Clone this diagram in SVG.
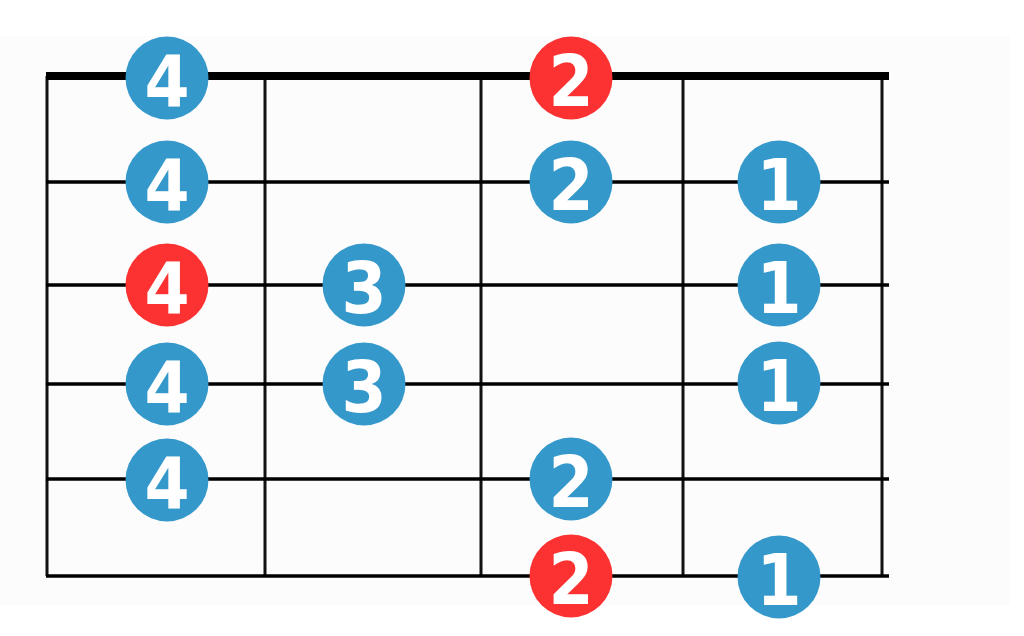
<svg xmlns="http://www.w3.org/2000/svg" width="1024" height="636" viewBox="0 0 1024 636">
<style>
.str{stroke:#000;stroke-width:3.5;fill:none}
.fret{stroke:#111;stroke-width:3;fill:none}
.b{fill:#3598cb}
.r{fill:#fc3232}
.n{font-family:"DejaVu Sans Condensed","DejaVu Sans",sans-serif;font-weight:bold;font-size:72px;fill:#fff;text-anchor:middle}
</style>
<rect width="1024" height="636" fill="#fff"/>
<path d="M0 36 H1010 V605 H0 Z" fill="#fcfcfd"/>
<g id="fretboard">
<line class="fret" x1="47" y1="76" x2="47" y2="576"/>
<line class="fret" x1="265" y1="76" x2="265" y2="576"/>
<line class="fret" x1="481" y1="76" x2="481" y2="576"/>
<line class="fret" x1="683" y1="76" x2="683" y2="576"/>
<line class="fret" x1="882" y1="76" x2="882" y2="576"/>
<line x1="46" y1="76" x2="889" y2="76" stroke="#000" stroke-width="8"/>
<line class="str" x1="46" y1="182" x2="889" y2="182"/>
<line class="str" x1="46" y1="285" x2="889" y2="285"/>
<line class="str" x1="46" y1="384" x2="889" y2="384"/>
<line class="str" x1="46" y1="479" x2="889" y2="479"/>
<line class="str" x1="46" y1="576" x2="889" y2="576"/>
</g>
<g id="n1"><circle class="b" cx="167" cy="78" r="41.5"/><text class="n" x="167" y="106">4</text></g>
<g id="n2"><circle class="b" cx="167" cy="182" r="41.5"/><text class="n" x="167" y="210">4</text></g>
<g id="n3"><circle class="r" cx="167" cy="285" r="41.5"/><text class="n" x="167" y="313">4</text></g>
<g id="n4"><circle class="b" cx="167" cy="384" r="41.5"/><text class="n" x="167" y="412">4</text></g>
<g id="n5"><circle class="b" cx="167" cy="480" r="41.5"/><text class="n" x="167" y="508">4</text></g>
<g id="n6"><circle class="b" cx="364" cy="285" r="41.5"/><text class="n" x="364" y="313">3</text></g>
<g id="n7"><circle class="b" cx="364" cy="384" r="41.5"/><text class="n" x="364" y="412">3</text></g>
<g id="n8"><circle class="r" cx="571" cy="78" r="41.5"/><text class="n" x="571" y="106">2</text></g>
<g id="n9"><circle class="b" cx="571" cy="182" r="41.5"/><text class="n" x="571" y="210">2</text></g>
<g id="n10"><circle class="b" cx="571" cy="479" r="41.5"/><text class="n" x="571" y="507">2</text></g>
<g id="n11"><circle class="r" cx="571" cy="576" r="41.5"/><text class="n" x="571" y="604">2</text></g>
<g id="n12"><circle class="b" cx="779" cy="182" r="41.5"/><text class="n" x="779" y="210">1</text></g>
<g id="n13"><circle class="b" cx="779" cy="285" r="41.5"/><text class="n" x="779" y="313">1</text></g>
<g id="n14"><circle class="b" cx="779" cy="383" r="41.5"/><text class="n" x="779" y="411">1</text></g>
<g id="n15"><circle class="b" cx="779" cy="577" r="41.5"/><text class="n" x="779" y="605">1</text></g>
</svg>
